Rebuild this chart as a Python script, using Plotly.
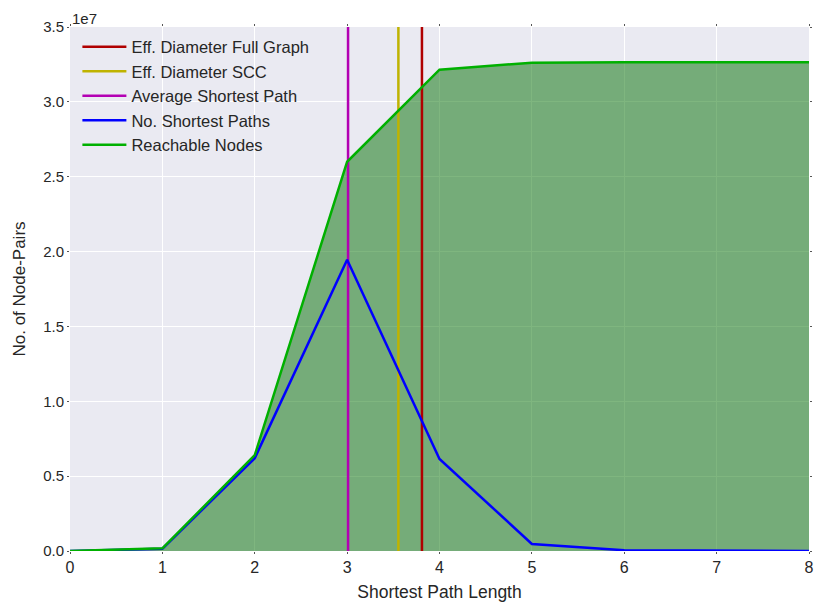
import plotly.graph_objects as go

path_len = [0, 1, 2, 3, 4, 5, 6, 7, 8]
reachable = [0.0, 0.018e7, 0.64e7, 2.60e7, 3.215e7, 3.262e7, 3.265e7, 3.265e7, 3.265e7]
shortest = [0.0, 0.015e7, 0.62e7, 1.945e7, 0.615e7, 0.047e7, 0.005e7, 0.002e7, 0.0]
eff_diam_full = 3.81
eff_diam_scc = 3.555
avg_shortest = 3.01
y_top = 3.5e7
ytick_vals = [0, 0.5e7, 1.0e7, 1.5e7, 2.0e7, 2.5e7, 3.0e7, 3.5e7]
ytick_text = ["0.0", "0.5", "1.0", "1.5", "2.0", "2.5", "3.0", "3.5"]

fig = go.Figure()
# fill under reachable
fig.add_trace(go.Scatter(x=path_len, y=reachable, fill="tozeroy", mode="none",
                         fillcolor="rgba(0,110,0,0.5)", showlegend=False, hoverinfo="skip"))
fig.add_trace(go.Scatter(x=[eff_diam_full, eff_diam_full], y=[0, y_top], mode="lines",
                         line=dict(color="#b00000", width=2.5), name="Eff. Diameter Full Graph"))
fig.add_trace(go.Scatter(x=[eff_diam_scc, eff_diam_scc], y=[0, y_top], mode="lines",
                         line=dict(color="#bfb300", width=2.5), name="Eff. Diameter SCC"))
fig.add_trace(go.Scatter(x=[avg_shortest, avg_shortest], y=[0, y_top], mode="lines",
                         line=dict(color="#b300b3", width=2.5), name="Average Shortest Path"))
fig.add_trace(go.Scatter(x=path_len, y=shortest, mode="lines",
                         line=dict(color="#0000ff", width=2.5), name="No. Shortest Paths"))
fig.add_trace(go.Scatter(x=path_len, y=reachable, mode="lines",
                         line=dict(color="#00b000", width=2.5), name="Reachable Nodes"))

fig.update_layout(
    width=814, height=602,
    margin=dict(l=70, r=5, t=27, b=51),
    paper_bgcolor="white", plot_bgcolor="#EAEAF2",
    font=dict(family="Liberation Sans, Arial", size=15, color="#262626"),
    showlegend=True,
    legend=dict(x=0.01, y=0.995, xanchor="left", yanchor="top", bgcolor="rgba(0,0,0,0)",
                font=dict(size=16.5, color="#262626"), tracegroupgap=0, itemwidth=44),
    annotations=[dict(text="1e7", x=0, y=1.0, xref="paper", yref="paper", xanchor="left",
                      yanchor="bottom", showarrow=False, font=dict(size=15, color="#262626"), yshift=-2)],
)
fig.update_xaxes(range=[0, 8], tickvals=path_len, showgrid=True, gridcolor="white", gridwidth=1.3,
                 zeroline=False, ticks="outside", ticklen=2, tickcolor="#555", mirror="ticks",
                 showline=False,
                 tickfont=dict(size=16),
                 title=dict(text="Shortest Path Length", standoff=12, font=dict(size=17.5)),
                 automargin=False)
fig.update_yaxes(range=[0, y_top], tickvals=ytick_vals, ticktext=ytick_text, showgrid=True,
                 gridcolor="white", gridwidth=1.3, zeroline=False, ticks="outside", ticklen=2,
                 tickcolor="#555", mirror="ticks", showline=False,
                 title=dict(text="No. of Node-Pairs", standoff=13, font=dict(size=17)),
                 automargin=False)

fig.write_html("out.html")
